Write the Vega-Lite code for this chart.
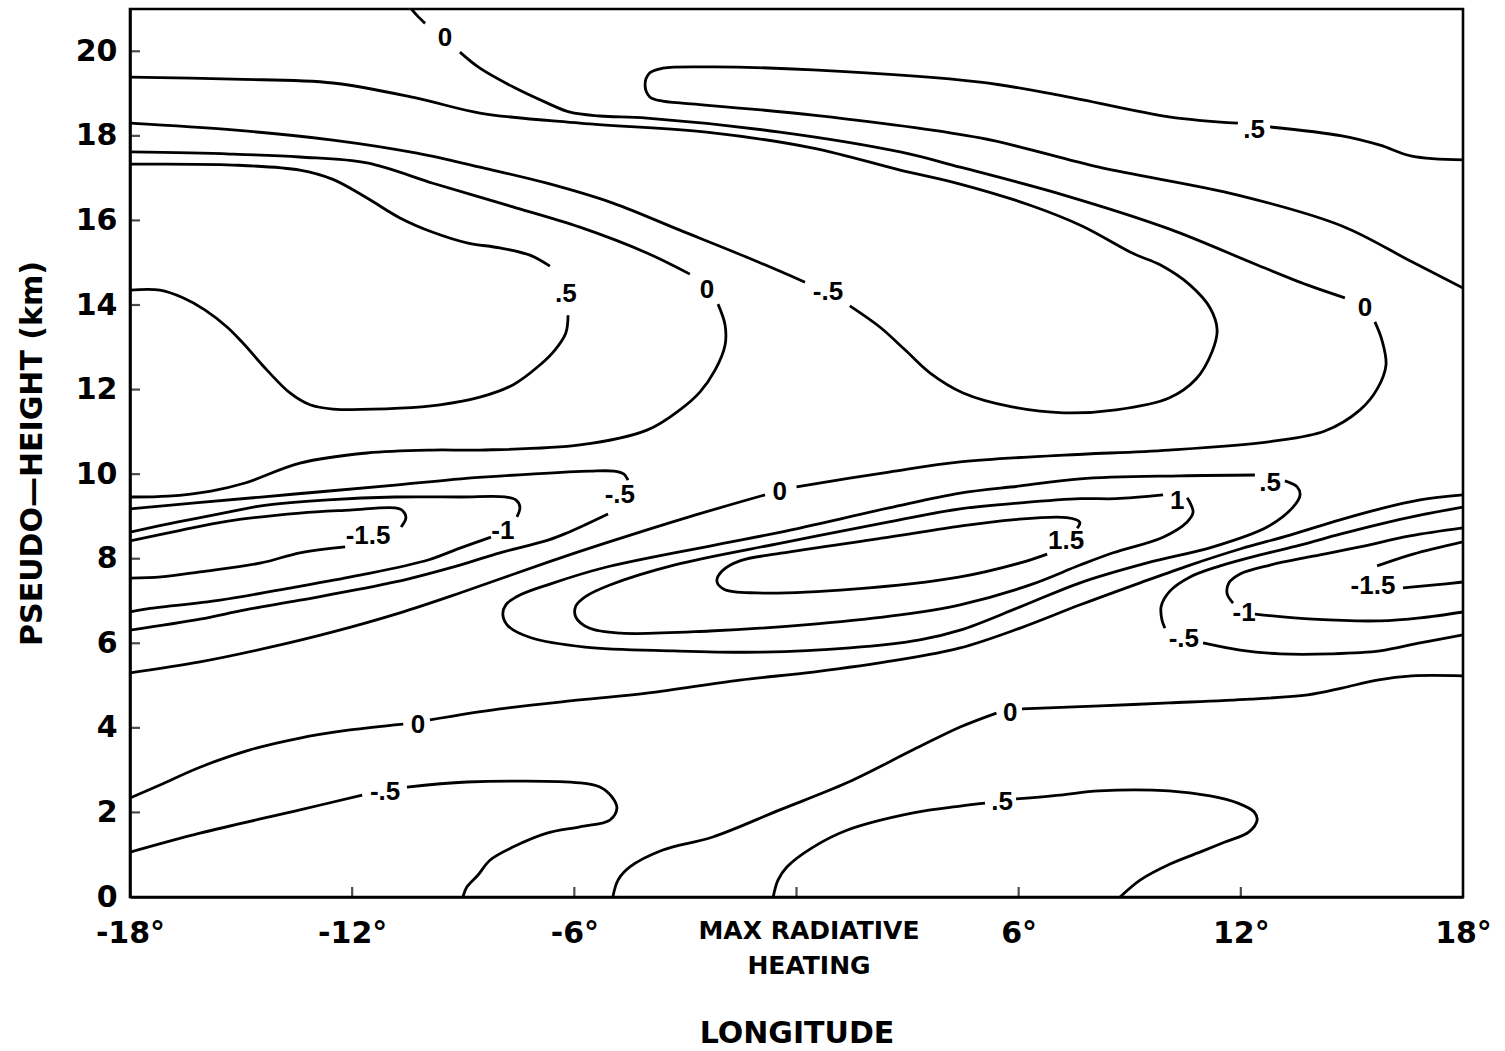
{
  "$schema": "https://vega.github.io/schema/vega-lite/v6.json",
  "width": 1333,
  "height": 888,
  "autosize": {"type": "none"},
  "padding": {"left": 130, "top": 9, "right": 42, "bottom": 154},
  "background": "white",
  "config": {
    "view": {"stroke": "black", "strokeWidth": 2.6},
    "axis": {
      "domainColor": "black", "domainWidth": 2.6, "tickColor": "transparent", "tickWidth": 2,
      "grid": false, "labelColor": "black", "titleColor": "black",
      "labelFont": "DejaVu Sans", "titleFont": "DejaVu Sans",
      "labelFontWeight": "bold", "titleFontWeight": "bold", "labelLimit": 500
    }
  },
  "datasets": {
    "xticks": [{"v": -12}, {"v": -6}, {"v": 0}, {"v": 6}, {"v": 12}],
    "yticks": [{"v": 2}, {"v": 4}, {"v": 6}, {"v": 8}, {"v": 10}, {"v": 12}, {"v": 14}, {"v": 16}, {"v": 18}, {"v": 20}],
    "lines": [
      {"s":"A1","i":0,"x":-10.40,"y":21.00},{"s":"A1","i":1,"x":-10.25,"y":20.85},{"s":"A1","i":2,"x":-10.03,"y":20.66},
      {"s":"A2","i":0,"x":-9.09,"y":19.98},{"s":"A2","i":1,"x":-8.55,"y":19.60},{"s":"A2","i":2,"x":-7.66,"y":19.16},{"s":"A2","i":3,"x":-6.74,"y":18.78},{"s":"A2","i":4,"x":-6.12,"y":18.56},{"s":"A2","i":5,"x":-5.31,"y":18.47},{"s":"A2","i":6,"x":-4.04,"y":18.42},{"s":"A2","i":7,"x":-0.45,"y":18.09},{"s":"A2","i":8,"x":2.80,"y":17.62},{"s":"A2","i":9,"x":4.42,"y":17.26},{"s":"A2","i":10,"x":7.22,"y":16.60},{"s":"A2","i":11,"x":10.06,"y":15.80},{"s":"A2","i":12,"x":12.38,"y":14.97},{"s":"A2","i":13,"x":13.81,"y":14.47},{"s":"A2","i":14,"x":14.81,"y":14.17},
      {"s":"A3","i":0,"x":15.62,"y":13.60},{"s":"A3","i":1,"x":15.81,"y":13.17},{"s":"A3","i":2,"x":15.92,"y":12.58},{"s":"A3","i":3,"x":15.68,"y":12.01},{"s":"A3","i":4,"x":15.22,"y":11.52},{"s":"A3","i":5,"x":14.27,"y":11.02},{"s":"A3","i":6,"x":12.87,"y":10.78},{"s":"A3","i":7,"x":10.06,"y":10.57},{"s":"A3","i":8,"x":7.22,"y":10.45},{"s":"A3","i":9,"x":4.42,"y":10.29},{"s":"A3","i":10,"x":2.50,"y":10.05},{"s":"A3","i":11,"x":0.00,"y":9.70},
      {"s":"A4","i":0,"x":-0.85,"y":9.51},{"s":"A4","i":1,"x":-2.90,"y":8.99},{"s":"A4","i":2,"x":-5.23,"y":8.35},{"s":"A4","i":3,"x":-6.71,"y":7.92},{"s":"A4","i":4,"x":-9.09,"y":7.19},{"s":"A4","i":5,"x":-10.71,"y":6.72},{"s":"A4","i":6,"x":-12.52,"y":6.27},{"s":"A4","i":7,"x":-14.30,"y":5.89},{"s":"A4","i":8,"x":-16.11,"y":5.56},{"s":"A4","i":9,"x":-18,"y":5.30},
      {"s":"B1","i":0,"x":-18,"y":17.62},{"s":"B1","i":1,"x":-15.30,"y":17.57},{"s":"B1","i":2,"x":-13.41,"y":17.50},{"s":"B1","i":3,"x":-11.60,"y":17.36},{"s":"B1","i":4,"x":-9.82,"y":16.88},{"s":"B1","i":5,"x":-8.55,"y":16.55},{"s":"B1","i":6,"x":-7.66,"y":16.32},{"s":"B1","i":7,"x":-5.85,"y":15.84},{"s":"B1","i":8,"x":-4.04,"y":15.23},{"s":"B1","i":9,"x":-2.88,"y":14.73},
      {"s":"B2","i":0,"x":-2.12,"y":14.02},{"s":"B2","i":1,"x":-1.93,"y":13.53},{"s":"B2","i":2,"x":-1.93,"y":13.05},{"s":"B2","i":3,"x":-2.20,"y":12.46},{"s":"B2","i":4,"x":-2.61,"y":11.94},{"s":"B2","i":5,"x":-3.15,"y":11.52},{"s":"B2","i":6,"x":-4.04,"y":11.04},{"s":"B2","i":7,"x":-5.85,"y":10.69},{"s":"B2","i":8,"x":-8.55,"y":10.57},{"s":"B2","i":9,"x":-9.82,"y":10.57},{"s":"B2","i":10,"x":-11.60,"y":10.50},{"s":"B2","i":11,"x":-13.41,"y":10.26},{"s":"B2","i":12,"x":-14.89,"y":9.79},{"s":"B2","i":13,"x":-15.81,"y":9.60},{"s":"B2","i":14,"x":-16.97,"y":9.48},{"s":"B2","i":15,"x":-18,"y":9.46},
      {"s":"C1","i":0,"x":-18,"y":17.33},{"s":"C1","i":1,"x":-15.22,"y":17.31},{"s":"C1","i":2,"x":-13.41,"y":17.19},{"s":"C1","i":3,"x":-12.52,"y":16.97},{"s":"C1","i":4,"x":-11.60,"y":16.53},{"s":"C1","i":5,"x":-10.71,"y":16.06},{"s":"C1","i":6,"x":-9.82,"y":15.72},{"s":"C1","i":7,"x":-8.90,"y":15.47},{"s":"C1","i":8,"x":-8.01,"y":15.35},{"s":"C1","i":9,"x":-7.20,"y":15.18},{"s":"C1","i":10,"x":-6.66,"y":14.92},
      {"s":"C2","i":0,"x":-6.17,"y":13.76},{"s":"C2","i":1,"x":-6.23,"y":13.34},{"s":"C2","i":2,"x":-6.52,"y":12.94},{"s":"C2","i":3,"x":-6.93,"y":12.58},{"s":"C2","i":4,"x":-7.66,"y":12.11},{"s":"C2","i":5,"x":-8.55,"y":11.82},{"s":"C2","i":6,"x":-9.63,"y":11.64},{"s":"C2","i":7,"x":-10.71,"y":11.56},{"s":"C2","i":8,"x":-12.52,"y":11.54},{"s":"C2","i":9,"x":-13.14,"y":11.64},{"s":"C2","i":10,"x":-13.68,"y":11.92},{"s":"C2","i":11,"x":-14.30,"y":12.46},{"s":"C2","i":12,"x":-14.95,"y":13.10},{"s":"C2","i":13,"x":-15.38,"y":13.48},{"s":"C2","i":14,"x":-15.97,"y":13.88},{"s":"C2","i":15,"x":-16.57,"y":14.17},{"s":"C2","i":16,"x":-17.19,"y":14.35},{"s":"C2","i":17,"x":-18,"y":14.35},
      {"s":"D1","i":0,"x":-18,"y":18.30},{"s":"D1","i":1,"x":-15.22,"y":18.14},{"s":"D1","i":2,"x":-12.52,"y":17.90},{"s":"D1","i":3,"x":-10.25,"y":17.59},{"s":"D1","i":4,"x":-8.55,"y":17.26},{"s":"D1","i":5,"x":-6.74,"y":16.88},{"s":"D1","i":6,"x":-4.96,"y":16.41},{"s":"D1","i":7,"x":-3.15,"y":15.77},{"s":"D1","i":8,"x":-1.34,"y":15.13},{"s":"D1","i":9,"x":0.23,"y":14.54},
      {"s":"D2","i":0,"x":1.44,"y":13.98},{"s":"D2","i":1,"x":2.25,"y":13.48},{"s":"D2","i":2,"x":2.93,"y":12.94},{"s":"D2","i":3,"x":3.61,"y":12.39},{"s":"D2","i":4,"x":4.50,"y":11.92},{"s":"D2","i":5,"x":5.82,"y":11.59},{"s":"D2","i":6,"x":7.22,"y":11.45},{"s":"D2","i":7,"x":8.63,"y":11.52},{"s":"D2","i":8,"x":10.06,"y":11.80},{"s":"D2","i":9,"x":10.79,"y":12.25},{"s":"D2","i":10,"x":11.22,"y":12.89},{"s":"D2","i":11,"x":11.36,"y":13.41},{"s":"D2","i":12,"x":11.17,"y":13.93},{"s":"D2","i":13,"x":10.63,"y":14.47},{"s":"D2","i":14,"x":9.82,"y":14.95},{"s":"D2","i":15,"x":9.11,"y":15.21},{"s":"D2","i":16,"x":7.71,"y":15.87},{"s":"D2","i":17,"x":6.31,"y":16.36},{"s":"D2","i":18,"x":4.42,"y":16.86},{"s":"D2","i":19,"x":2.80,"y":17.19},{"s":"D2","i":20,"x":0.45,"y":17.71},{"s":"D2","i":21,"x":-2.26,"y":18.07},{"s":"D2","i":22,"x":-5.85,"y":18.30},{"s":"D2","i":23,"x":-8.55,"y":18.54},{"s":"D2","i":24,"x":-10.25,"y":18.89},{"s":"D2","i":25,"x":-12.52,"y":19.25},{"s":"D2","i":26,"x":-15.22,"y":19.34},{"s":"D2","i":27,"x":-18,"y":19.39},
      {"s":"E1","i":0,"x":11.92,"y":18.30},{"s":"E1","i":1,"x":10.06,"y":18.45},{"s":"E1","i":2,"x":7.22,"y":18.94},{"s":"E1","i":3,"x":4.96,"y":19.27},{"s":"E1","i":4,"x":0.45,"y":19.56},{"s":"E1","i":5,"x":-2.26,"y":19.63},{"s":"E1","i":6,"x":-3.61,"y":19.60},{"s":"E1","i":7,"x":-3.96,"y":19.49},{"s":"E1","i":8,"x":-4.09,"y":19.20},{"s":"E1","i":9,"x":-3.96,"y":18.92},{"s":"E1","i":10,"x":-3.61,"y":18.82},{"s":"E1","i":11,"x":-3.15,"y":18.78},{"s":"E1","i":12,"x":0.45,"y":18.49},{"s":"E1","i":13,"x":4.96,"y":17.95},{"s":"E1","i":14,"x":8.17,"y":17.26},{"s":"E1","i":15,"x":11.92,"y":16.60},{"s":"E1","i":16,"x":14.73,"y":15.87},{"s":"E1","i":17,"x":16.62,"y":15.02},{"s":"E1","i":18,"x":18,"y":14.40},
      {"s":"E2","i":0,"x":12.79,"y":18.21},{"s":"E2","i":1,"x":14.73,"y":18.00},{"s":"E2","i":2,"x":15.76,"y":17.78},{"s":"E2","i":3,"x":16.62,"y":17.52},{"s":"E2","i":4,"x":18,"y":17.43},
      {"s":"F1","i":0,"x":-18,"y":2.34},{"s":"F1","i":1,"x":-17.19,"y":2.65},{"s":"F1","i":2,"x":-16.11,"y":3.07},{"s":"F1","i":3,"x":-14.76,"y":3.48},{"s":"F1","i":4,"x":-13.41,"y":3.76},{"s":"F1","i":5,"x":-12.06,"y":3.95},{"s":"F1","i":6,"x":-10.62,"y":4.09},
      {"s":"F2","i":0,"x":-9.90,"y":4.19},{"s":"F2","i":1,"x":-8.01,"y":4.45},{"s":"F2","i":2,"x":-5.85,"y":4.66},{"s":"F2","i":3,"x":-4.04,"y":4.82},{"s":"F2","i":4,"x":-1.53,"y":5.13},{"s":"F2","i":5,"x":0.45,"y":5.32},{"s":"F2","i":6,"x":2.71,"y":5.60},{"s":"F2","i":7,"x":4.42,"y":5.89},{"s":"F2","i":8,"x":6.04,"y":6.36},{"s":"F2","i":9,"x":7.66,"y":6.91},{"s":"F2","i":10,"x":9.28,"y":7.43},{"s":"F2","i":11,"x":10.63,"y":7.85},{"s":"F2","i":12,"x":11.98,"y":8.23},{"s":"F2","i":13,"x":13.33,"y":8.56},{"s":"F2","i":14,"x":14.68,"y":8.92},{"s":"F2","i":15,"x":15.76,"y":9.18},{"s":"F2","i":16,"x":16.84,"y":9.39},{"s":"F2","i":17,"x":18,"y":9.51},
      {"s":"G1","i":0,"x":-4.96,"y":0},{"s":"G1","i":1,"x":-4.82,"y":0.40},{"s":"G1","i":2,"x":-4.50,"y":0.71},{"s":"G1","i":3,"x":-3.61,"y":1.11},{"s":"G1","i":4,"x":-2.26,"y":1.42},{"s":"G1","i":5,"x":-0.45,"y":2.06},{"s":"G1","i":6,"x":1.36,"y":2.70},{"s":"G1","i":7,"x":3.15,"y":3.48},{"s":"G1","i":8,"x":4.42,"y":4.02},{"s":"G1","i":9,"x":5.40,"y":4.35},
      {"s":"G2","i":0,"x":6.09,"y":4.45},{"s":"G2","i":1,"x":8.20,"y":4.52},{"s":"G2","i":2,"x":10.06,"y":4.59},{"s":"G2","i":3,"x":12.25,"y":4.68},{"s":"G2","i":4,"x":13.81,"y":4.78},{"s":"G2","i":5,"x":14.73,"y":4.94},{"s":"G2","i":6,"x":15.68,"y":5.13},{"s":"G2","i":7,"x":16.62,"y":5.23},{"s":"G2","i":8,"x":18,"y":5.23},
      {"s":"H1","i":0,"x":-0.63,"y":0},{"s":"H1","i":1,"x":-0.50,"y":0.40},{"s":"H1","i":2,"x":-0.26,"y":0.71},{"s":"H1","i":3,"x":0.45,"y":1.18},{"s":"H1","i":4,"x":1.36,"y":1.58},{"s":"H1","i":5,"x":3.15,"y":1.99},{"s":"H1","i":6,"x":4.42,"y":2.15},{"s":"H1","i":7,"x":5.09,"y":2.22},
      {"s":"H2","i":0,"x":5.93,"y":2.32},{"s":"H2","i":1,"x":7.12,"y":2.41},{"s":"H2","i":2,"x":8.17,"y":2.51},{"s":"H2","i":3,"x":10.06,"y":2.51},{"s":"H2","i":4,"x":11.17,"y":2.39},{"s":"H2","i":5,"x":11.92,"y":2.22},{"s":"H2","i":6,"x":12.36,"y":2.01},{"s":"H2","i":7,"x":12.44,"y":1.82},{"s":"H2","i":8,"x":12.22,"y":1.54},{"s":"H2","i":9,"x":11.57,"y":1.30},{"s":"H2","i":10,"x":10.98,"y":1.09},{"s":"H2","i":11,"x":10.09,"y":0.78},{"s":"H2","i":12,"x":9.28,"y":0.40},{"s":"H2","i":13,"x":8.74,"y":0},
      {"s":"I1","i":0,"x":-18,"y":1.06},{"s":"I1","i":1,"x":-16.11,"y":1.51},{"s":"I1","i":2,"x":-13.41,"y":2.06},{"s":"I1","i":3,"x":-11.73,"y":2.41},
      {"s":"I2","i":0,"x":-10.52,"y":2.60},{"s":"I2","i":1,"x":-8.90,"y":2.72},{"s":"I2","i":2,"x":-5.85,"y":2.70},{"s":"I2","i":3,"x":-5.31,"y":2.60},{"s":"I2","i":4,"x":-4.98,"y":2.36},{"s":"I2","i":5,"x":-4.85,"y":2.10},{"s":"I2","i":6,"x":-5.04,"y":1.82},{"s":"I2","i":7,"x":-5.85,"y":1.66},{"s":"I2","i":8,"x":-6.74,"y":1.51},{"s":"I2","i":9,"x":-7.66,"y":1.18},{"s":"I2","i":10,"x":-8.28,"y":0.87},{"s":"I2","i":11,"x":-8.60,"y":0.52},{"s":"I2","i":12,"x":-8.90,"y":0.24},{"s":"I2","i":13,"x":-9.01,"y":0},
      {"s":"J1","i":0,"x":-18,"y":9.18},{"s":"J1","i":1,"x":-16.24,"y":9.32},{"s":"J1","i":2,"x":-13.54,"y":9.53},{"s":"J1","i":3,"x":-10.84,"y":9.74},{"s":"J1","i":4,"x":-9.06,"y":9.89},{"s":"J1","i":5,"x":-7.17,"y":10.00},{"s":"J1","i":6,"x":-5.58,"y":10.07},{"s":"J1","i":7,"x":-4.93,"y":10.07},{"s":"J1","i":8,"x":-4.66,"y":10.00},{"s":"J1","i":9,"x":-4.55,"y":9.86},
      {"s":"J2","i":0,"x":-5.09,"y":9.06},{"s":"J2","i":1,"x":-6.20,"y":8.61},{"s":"J2","i":2,"x":-6.71,"y":8.44},{"s":"J2","i":3,"x":-8.01,"y":8.14},{"s":"J2","i":4,"x":-9.09,"y":7.85},{"s":"J2","i":5,"x":-10.84,"y":7.45},{"s":"J2","i":6,"x":-13.41,"y":7.02},{"s":"J2","i":7,"x":-14.89,"y":6.79},{"s":"J2","i":8,"x":-16.11,"y":6.57},{"s":"J2","i":9,"x":-18,"y":6.31},
      {"s":"K1","i":0,"x":-18,"y":8.63},{"s":"K1","i":1,"x":-16.70,"y":8.87},{"s":"K1","i":2,"x":-15.35,"y":9.10},{"s":"K1","i":3,"x":-14.46,"y":9.25},{"s":"K1","i":4,"x":-12.65,"y":9.39},{"s":"K1","i":5,"x":-10.84,"y":9.46},{"s":"K1","i":6,"x":-9.06,"y":9.46},{"s":"K1","i":7,"x":-7.87,"y":9.46},{"s":"K1","i":8,"x":-7.58,"y":9.39},{"s":"K1","i":9,"x":-7.47,"y":9.22},{"s":"K1","i":10,"x":-7.55,"y":8.99},
      {"s":"K2","i":0,"x":-8.25,"y":8.51},{"s":"K2","i":1,"x":-9.09,"y":8.25},{"s":"K2","i":2,"x":-9.95,"y":7.97},{"s":"K2","i":3,"x":-11.79,"y":7.61},{"s":"K2","i":4,"x":-13.54,"y":7.33},{"s":"K2","i":5,"x":-15.57,"y":7.02},{"s":"K2","i":6,"x":-17.59,"y":6.81},{"s":"K2","i":7,"x":-18,"y":6.74},
      {"s":"L1","i":0,"x":-18,"y":8.42},{"s":"L1","i":1,"x":-16.70,"y":8.66},{"s":"L1","i":2,"x":-15.35,"y":8.89},{"s":"L1","i":3,"x":-13.41,"y":9.08},{"s":"L1","i":4,"x":-12.06,"y":9.15},{"s":"L1","i":5,"x":-10.84,"y":9.20},{"s":"L1","i":6,"x":-10.63,"y":9.13},{"s":"L1","i":7,"x":-10.55,"y":8.96},{"s":"L1","i":8,"x":-10.68,"y":8.75},
      {"s":"L2","i":0,"x":-12.19,"y":8.28},{"s":"L2","i":1,"x":-13.41,"y":8.14},{"s":"L2","i":2,"x":-14.46,"y":7.90},{"s":"L2","i":3,"x":-16.11,"y":7.69},{"s":"L2","i":4,"x":-17.16,"y":7.57},{"s":"L2","i":5,"x":-18,"y":7.54},
      {"s":"M","i":0,"x":12.38,"y":9.98},{"s":"M","i":1,"x":10.36,"y":9.96},{"s":"M","i":2,"x":7.66,"y":9.89},{"s":"M","i":3,"x":6.04,"y":9.72},{"s":"M","i":4,"x":4.42,"y":9.55},{"s":"M","i":5,"x":2.50,"y":9.20},{"s":"M","i":6,"x":-0.42,"y":8.63},{"s":"M","i":7,"x":-2.34,"y":8.30},{"s":"M","i":8,"x":-5.23,"y":7.78},{"s":"M","i":9,"x":-6.66,"y":7.40},{"s":"M","i":10,"x":-7.47,"y":7.14},{"s":"M","i":11,"x":-7.85,"y":6.91},{"s":"M","i":12,"x":-7.93,"y":6.67},{"s":"M","i":13,"x":-7.79,"y":6.41},{"s":"M","i":14,"x":-7.17,"y":6.13},{"s":"M","i":15,"x":-5.71,"y":5.91},{"s":"M","i":16,"x":-3.31,"y":5.82},{"s":"M","i":17,"x":-0.99,"y":5.79},{"s":"M","i":18,"x":1.44,"y":5.89},{"s":"M","i":19,"x":3.33,"y":6.08},{"s":"M","i":20,"x":4.42,"y":6.31},{"s":"M","i":21,"x":6.04,"y":6.86},{"s":"M","i":22,"x":7.66,"y":7.43},{"s":"M","i":23,"x":9.47,"y":7.90},{"s":"M","i":24,"x":11.25,"y":8.28},{"s":"M","i":25,"x":12.71,"y":8.75},{"s":"M","i":26,"x":13.41,"y":9.22},{"s":"M","i":27,"x":13.60,"y":9.51},{"s":"M","i":28,"x":13.52,"y":9.70},{"s":"M","i":29,"x":13.19,"y":9.84},
      {"s":"N","i":0,"x":9.90,"y":9.51},{"s":"N","i":1,"x":8.63,"y":9.42},{"s":"N","i":2,"x":7.66,"y":9.42},{"s":"N","i":3,"x":6.04,"y":9.32},{"s":"N","i":4,"x":4.42,"y":9.18},{"s":"N","i":5,"x":2.50,"y":8.87},{"s":"N","i":6,"x":-0.42,"y":8.37},{"s":"N","i":7,"x":-3.31,"y":7.85},{"s":"N","i":8,"x":-5.04,"y":7.38},{"s":"N","i":9,"x":-5.71,"y":7.10},{"s":"N","i":10,"x":-5.96,"y":6.88},{"s":"N","i":11,"x":-5.96,"y":6.62},{"s":"N","i":12,"x":-5.60,"y":6.36},{"s":"N","i":13,"x":-4.74,"y":6.24},{"s":"N","i":14,"x":-2.34,"y":6.29},{"s":"N","i":15,"x":0.55,"y":6.46},{"s":"N","i":16,"x":2.80,"y":6.67},{"s":"N","i":17,"x":4.42,"y":6.91},{"s":"N","i":18,"x":6.31,"y":7.38},{"s":"N","i":19,"x":7.66,"y":7.85},{"s":"N","i":20,"x":8.55,"y":8.14},{"s":"N","i":21,"x":9.90,"y":8.51},{"s":"N","i":22,"x":10.55,"y":8.87},{"s":"N","i":23,"x":10.71,"y":9.10},{"s":"N","i":24,"x":10.63,"y":9.32},{"s":"N","i":25,"x":10.55,"y":9.44},
      {"s":"O","i":0,"x":7.58,"y":8.72},{"s":"O","i":1,"x":7.65,"y":8.86},{"s":"O","i":2,"x":7.30,"y":8.97},{"s":"O","i":3,"x":5.82,"y":8.92},{"s":"O","i":4,"x":4.42,"y":8.77},{"s":"O","i":5,"x":2.50,"y":8.51},{"s":"O","i":6,"x":-0.42,"y":8.13},{"s":"O","i":7,"x":-1.53,"y":7.95},{"s":"O","i":8,"x":-2.01,"y":7.71},{"s":"O","i":9,"x":-2.15,"y":7.47},{"s":"O","i":10,"x":-1.96,"y":7.28},{"s":"O","i":11,"x":-1.09,"y":7.19},{"s":"O","i":12,"x":1.53,"y":7.28},{"s":"O","i":13,"x":4.42,"y":7.57},{"s":"O","i":14,"x":6.04,"y":7.90},{"s":"O","i":15,"x":6.77,"y":8.11},
      {"s":"P1","i":0,"x":18,"y":9.22},{"s":"P1","i":1,"x":16.84,"y":9.03},{"s":"P1","i":2,"x":15.76,"y":8.82},{"s":"P1","i":3,"x":14.68,"y":8.58},{"s":"P1","i":4,"x":13.60,"y":8.32},{"s":"P1","i":5,"x":12.52,"y":8.09},{"s":"P1","i":6,"x":11.44,"y":7.83},{"s":"P1","i":7,"x":10.63,"y":7.57},{"s":"P1","i":8,"x":10.09,"y":7.24},{"s":"P1","i":9,"x":9.85,"y":6.88},{"s":"P1","i":10,"x":9.87,"y":6.55},{"s":"P1","i":11,"x":9.95,"y":6.36},
      {"s":"P2","i":0,"x":10.98,"y":6.01},{"s":"P2","i":1,"x":11.98,"y":5.84},{"s":"P2","i":2,"x":13.06,"y":5.75},{"s":"P2","i":3,"x":14.41,"y":5.75},{"s":"P2","i":4,"x":15.76,"y":5.82},{"s":"P2","i":5,"x":16.84,"y":6.01},{"s":"P2","i":6,"x":18,"y":6.20},
      {"s":"Q1","i":0,"x":11.79,"y":6.95},{"s":"Q1","i":1,"x":11.63,"y":7.17},{"s":"Q1","i":2,"x":11.68,"y":7.43},{"s":"Q1","i":3,"x":11.98,"y":7.64},{"s":"Q1","i":4,"x":12.79,"y":7.85},{"s":"Q1","i":5,"x":13.95,"y":8.06},{"s":"Q1","i":6,"x":15.22,"y":8.28},{"s":"Q1","i":7,"x":16.57,"y":8.54},{"s":"Q1","i":8,"x":18,"y":8.73},
      {"s":"Q2","i":0,"x":12.38,"y":6.69},{"s":"Q2","i":1,"x":13.95,"y":6.57},{"s":"Q2","i":2,"x":15.76,"y":6.53},{"s":"Q2","i":3,"x":16.84,"y":6.60},{"s":"Q2","i":4,"x":18,"y":6.74},
      {"s":"R1","i":0,"x":15.68,"y":7.83},{"s":"R1","i":1,"x":16.65,"y":8.11},{"s":"R1","i":2,"x":18,"y":8.40},
      {"s":"R2","i":0,"x":16.38,"y":7.31},{"s":"R2","i":1,"x":17.24,"y":7.38},{"s":"R2","i":2,"x":18,"y":7.45}
    ],
    "labels": [
      {"t":"0","x":-9.49,"y":20.31},
      {"t":".5","x":12.36,"y":18.14},
      {"t":".5","x":-6.23,"y":14.26},
      {"t":"0","x":-2.42,"y":14.35},
      {"t":"-.5","x":0.85,"y":14.31},
      {"t":"0","x":15.35,"y":13.93},
      {"t":"-.5","x":-4.77,"y":9.51},
      {"t":"0","x":-0.45,"y":9.58},
      {"t":".5","x":12.79,"y":9.79},
      {"t":"1","x":10.28,"y":9.36},
      {"t":"-1.5","x":-11.57,"y":8.54},
      {"t":"-1","x":-7.93,"y":8.66},
      {"t":"1.5","x":7.28,"y":8.42},
      {"t":"-1.5","x":15.57,"y":7.35},
      {"t":"-1","x":12.09,"y":6.72},
      {"t":"-.5","x":10.46,"y":6.10},
      {"t":"0","x":-10.22,"y":4.07},
      {"t":"0","x":5.77,"y":4.35},
      {"t":"-.5","x":-11.11,"y":2.48},
      {"t":".5","x":5.55,"y":2.25}
    ]
  },
  "layer": [
    {
      "data": {"name": "lines"},
      "mark": {"type": "line", "interpolate": "catmull-rom", "color": "black", "strokeWidth": 2.8, "clip": true},
      "encoding": {
        "x": {
          "field": "x", "type": "quantitative",
          "scale": {"domain": [-18, 18], "nice": false, "zero": false},
          "axis": {
            "values": [-18, -12, -6, 0, 6, 12, 18],
            "labelExpr": "datum.value == 0 ? ['MAX RADIATIVE', 'HEATING'] : (datum.value + '°')",
            "labelFontSize": {"condition": {"test": "datum.value == 0", "value": 25}, "value": 30},
            "labelOffset": {"condition": {"test": "datum.value == 0", "value": 12}, "value": 0},
            "labelBaseline": "top",
            "labelLineHeight": 35,
            "labelFlush": false,
            "labelOverlap": false,
            "tickSize": -10,
            "labelPadding": 31,
            "title": "LONGITUDE",
            "titleFontSize": 30,
            "titlePadding": 40
          }
        },
        "y": {
          "field": "y", "type": "quantitative",
          "scale": {"domain": [0, 21], "nice": false, "zero": false},
          "axis": {
            "values": [0, 2, 4, 6, 8, 10, 12, 14, 16, 18, 20],
            "labelFontSize": 30,
            "labelFlush": false,
            "labelOverlap": false,
            "tickSize": -10,
            "labelPadding": 23,
            "title": "PSEUDO—HEIGHT (km)",
            "titleFontSize": 30,
            "titlePadding": 28
          }
        },
        "detail": {"field": "s"},
        "order": {"field": "i", "type": "quantitative"}
      }
    },
    {
      "data": {"name": "xticks"},
      "mark": {"type": "tick", "orient": "vertical", "size": 10, "thickness": 2.2, "color": "black", "yOffset": -5},
      "encoding": {
        "x": {"field": "v", "type": "quantitative"},
        "y": {"datum": 0}
      }
    },
    {
      "data": {"name": "yticks"},
      "mark": {"type": "tick", "orient": "horizontal", "size": 10, "thickness": 2.2, "color": "black", "xOffset": 5},
      "encoding": {
        "y": {"field": "v", "type": "quantitative"},
        "x": {"datum": -18}
      }
    },
    {
      "data": {"name": "labels"},
      "mark": {"type": "text", "font": "Liberation Sans", "fontWeight": "bold", "fontSize": 26, "align": "center", "baseline": "middle", "color": "black"},
      "encoding": {
        "x": {"field": "x", "type": "quantitative"},
        "y": {"field": "y", "type": "quantitative"},
        "text": {"field": "t"}
      }
    }
  ]
}
